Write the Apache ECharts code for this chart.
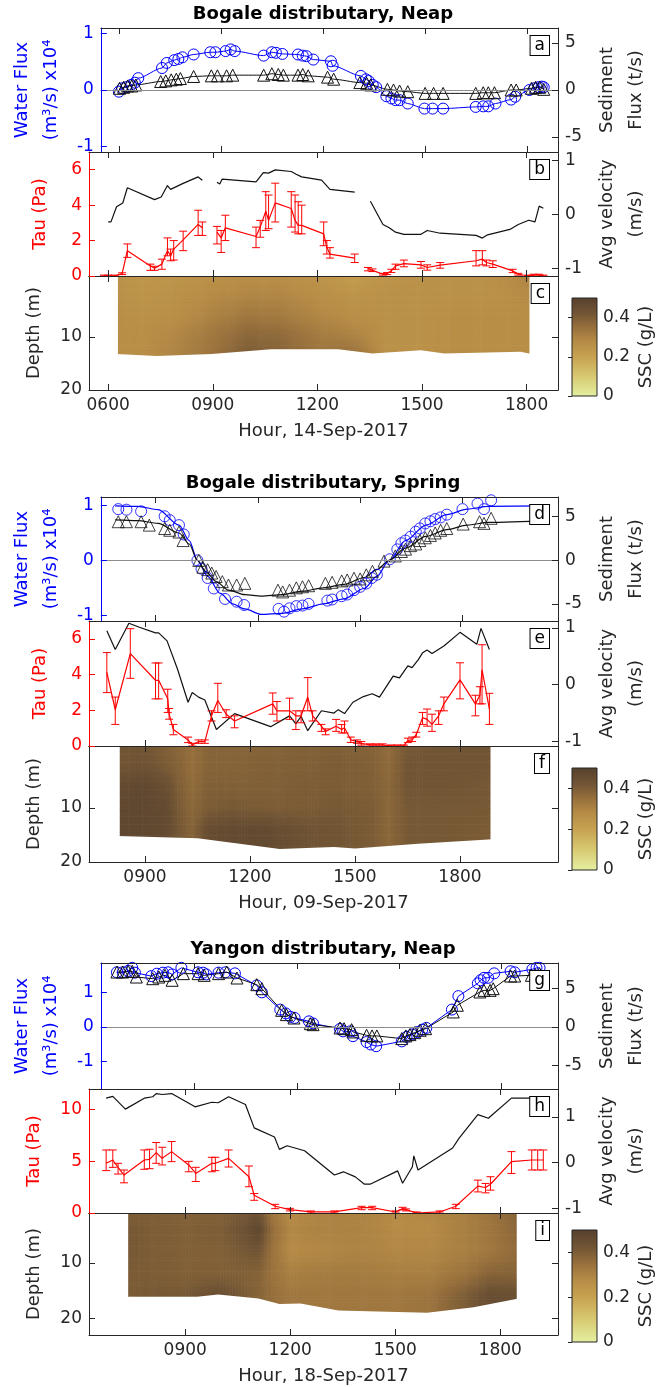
<!DOCTYPE html>
<html>
<head>
<meta charset="utf-8">
<script src="https://cdn.jsdelivr.net/npm/echarts@6/dist/echarts.min.js"></script>
<style>
  html, body { margin: 0; padding: 0; background: #fff; }
  #chart { width: 660px; height: 1387px; }
</style>
</head>
<body>
<div id="chart"></div>
<script>
// ---------- Bogale distributary, neap tide (14-Sep-2017) ----------
// [hour, water flux (x10^4 m3/s)]
const neapWaterFlux = [[5.98,-0.03],[6.08,0.03],[6.2,0.05],[6.34,0.09],[6.45,0.13],[6.55,0.21],[7.25,0.39],[7.39,0.48],[7.61,0.53],[7.73,0.55],[7.85,0.58],[8.18,0.63],[8.67,0.67],[8.82,0.67],[9.12,0.69],[9.27,0.72],[9.39,0.69],[10.24,0.61],[10.48,0.67],[10.6,0.66],[10.79,0.64],[11.25,0.63],[11.39,0.61],[11.5,0.6],[11.7,0.54],[12.22,0.51],[12.27,0.43],[13.1,0.25],[13.25,0.19],[13.33,0.16],[13.45,0.09],[13.55,0.05],[13.85,-0.11],[14.0,-0.15],[14.12,-0.18],[14.24,-0.18],[14.48,-0.24],[14.97,-0.33],[15.21,-0.33],[15.52,-0.33],[16.48,-0.3],[16.7,-0.29],[16.85,-0.29],[17.06,-0.24],[17.52,-0.17],[17.64,-0.12],[18.06,0],[18.2,0.03],[18.33,0.05],[18.42,0.06],[18.48,0.05]];
// [hour, sediment flux (t/s)]
const neapSedFlux = [[6.0,0.18],[6.12,0.29],[6.24,0.43],[6.36,0.43],[6.48,0.54],[7.21,0.9],[7.36,0.97],[7.52,1.08],[7.67,1.15],[7.79,1.22],[8.18,1.44],[8.7,1.51],[8.88,1.51],[9.15,1.51],[9.33,1.58],[10.24,1.58],[10.48,1.73],[10.67,1.65],[10.82,1.58],[11.25,1.58],[11.39,1.65],[11.55,1.51],[12.12,1.37],[12.3,1.15],[13.07,0.79],[13.27,0.72],[13.39,0.54],[13.88,0.07],[14.06,0],[14.24,-0.11],[14.48,-0.18],[14.99,-0.36],[15.24,-0.36],[15.52,-0.36],[16.48,-0.36],[16.7,-0.29],[16.85,-0.29],[17.03,-0.29],[17.52,0],[17.67,0],[18.12,0.18],[18.24,0.29],[18.36,0.29],[18.48,0.07]];
// [hour, tau (Pa), lower, upper]; null = no data
const neapTau = [[5.88,0,0,0.05],[6.0,0,0,0.05],[6.18,0,0,0.05],[6.4,0.13,0.08,0.18],[6.55,1.43,1.05,1.81],[7.21,0.57,0.32,0.67],[7.33,0.44,0.32,0.55],[7.54,0.67,0.38,0.95],[7.7,1.43,1.14,2.15],[7.79,1.14,0.86,1.52],[7.88,1.52,0.9,2.0],[8.15,2.04,1.43,2.53],[8.58,2.91,2.29,3.71],[8.7,2.72,2.29,3.05],null,[9.12,2.48,1.81,2.8],[9.24,2.15,1.33,2.57],[9.36,2.72,2.0,3.43],[10.24,2.23,1.6,2.76],[10.36,2.76,2.19,3.14],[10.52,3.66,2.57,4.76],[10.6,3.14,2.67,4.57],[10.79,4.13,3.05,5.24],[11.25,3.81,2.76,4.76],[11.36,3.14,2.48,4.57],[11.45,2.86,2.38,4.19],[11.55,2.86,2.38,4.0],[12.18,2.38,1.71,3.05],[12.27,1.62,1.24,2.0],[12.36,1.24,1.01,1.6],[13.07,1.01,0.76,1.24],null,[13.45,0.42,0.29,0.48],[13.58,0.32,0.25,0.4],[13.88,0.1,0.05,0.15],[14.0,0.13,0.08,0.2],[14.12,0.29,0.2,0.38],[14.24,0.57,0.38,0.67],[14.48,0.7,0.52,0.9],[14.97,0.63,0.44,0.82],[15.15,0.48,0.33,0.63],[15.52,0.61,0.44,0.76],[16.55,0.86,0.57,1.43],[16.73,0.95,0.63,1.43],[16.85,0.76,0.57,0.9],[17.03,0.67,0.48,0.86],[17.6,0.29,0.19,0.38],[17.76,0.1,0.05,0.15],[18.06,0,0,0.05],[18.2,0.06,0,0.1],[18.36,0.06,0,0.1],[18.48,0,0,0.05]];
// [hour, depth-averaged velocity (m/s)]
const neapVelocity = [[6.0,-0.14],[6.08,-0.14],[6.24,0.14],[6.42,0.21],[6.55,0.49],[7.33,0.27],[7.52,0.32],[7.7,0.53],[7.79,0.46],[8.15,0.57],[8.58,0.69],[8.7,0.63],null,[9.12,0.59],[9.2,0.56],[9.27,0.65],[10.24,0.6],[10.45,0.77],[10.6,0.76],[10.79,0.82],[11.25,0.79],[11.39,0.74],[11.55,0.69],[12.12,0.63],[12.36,0.46],[13.07,0.41],null,[13.52,0.24],[13.88,-0.19],[14.06,-0.25],[14.24,-0.33],[14.48,-0.37],[14.97,-0.37],[15.15,-0.3],[15.52,-0.35],[16.55,-0.39],[16.73,-0.44],[16.88,-0.38],[17.52,-0.28],[17.76,-0.19],[18.06,-0.11],[18.24,-0.14],[18.36,0.15],[18.48,0.11]];
// SSC section (g/L): columns = hours, rows = depths (m)
const neapSscHours = [6.28, 7, 8, 9, 10, 11, 12, 13, 14, 15, 16, 17, 18.08];
const neapSscDepths = [-1.5, 2, 6, 9.5, 13.6];
const neapSsc = [
  [0.26,0.24,0.25,0.26,0.27,0.27,0.25,0.22,0.25,0.26,0.26,0.26,0.30],
  [0.26,0.25,0.26,0.28,0.29,0.29,0.27,0.25,0.26,0.26,0.26,0.26,0.28],
  [0.27,0.26,0.27,0.30,0.33,0.32,0.29,0.27,0.26,0.26,0.27,0.27,0.27],
  [0.27,0.27,0.29,0.33,0.37,0.36,0.32,0.30,0.26,0.26,0.27,0.27,0.27],
  [0.27,0.27,0.30,0.34,0.40,0.38,0.34,0.35,0.26,0.26,0.27,0.27,0.27]
];
// bed: [hour, depth (m)]
const neapBed = [[6.28,13.2],[7.39,13.6],[8.97,13.2],[10.67,12.3],[12.6,12.3],[13.58,13.1],[14.97,12.5],[15.64,13.1],[17.82,12.8],[18.08,13.2]];

// ---------- Bogale distributary, spring tide (09-Sep-2017) ----------
const springWaterFlux = [[7.91,0.93],[8.15,0.92],[8.58,0.89],[9.27,0.8],[9.42,0.73],[9.69,0.64],[9.83,0.47],[10.23,0.0],[10.35,-0.15],[10.53,-0.32],[10.71,-0.51],[11.04,-0.7],[11.38,-0.75],[11.6,-0.81],[12.61,-0.88],[12.77,-0.93],[12.93,-0.87],[13.13,-0.83],[13.31,-0.82],[13.49,-0.79],[14.04,-0.73],[14.18,-0.71],[14.46,-0.65],[14.62,-0.62],[14.82,-0.54],[15.0,-0.48],[15.18,-0.42],[15.34,-0.32],[15.49,-0.26],[15.87,0.02],[16.09,0.2],[16.21,0.31],[16.33,0.36],[16.48,0.43],[16.63,0.52],[16.75,0.58],[16.91,0.67],[17.06,0.71],[17.2,0.75],[17.36,0.78],[17.54,0.83],[18.0,0.93],[18.44,1.03],[18.63,0.93],[18.84,1.09]];
const springWaterFit = [[7.82,0.99],[8.48,0.98],[9.08,0.92],[9.69,0.64],[9.99,0.36],[10.23,0.0],[10.53,-0.29],[10.9,-0.6],[11.26,-0.79],[11.62,-0.88],[12.1,-0.98],[12.71,-0.96],[13.31,-0.88],[13.92,-0.79],[14.52,-0.7],[15.12,-0.51],[15.49,-0.29],[15.85,0.0],[16.33,0.36],[16.93,0.64],[17.54,0.83],[18.14,0.93],[18.75,0.98],[20.56,0.99]];
const springSedFlux = [[7.91,4.43],[8.15,4.43],[8.58,4.43],[8.82,4.04],[9.27,3.65],[9.42,3.45],[9.69,3.25],[9.81,2.27],[10.27,0],[10.39,-0.78],[10.53,-1.06],[10.65,-1.45],[10.78,-1.84],[10.96,-2.43],[11.14,-2.82],[11.38,-2.82],[11.62,-2.63],[12.59,-3.41],[12.73,-3.61],[12.93,-3.41],[13.13,-3.14],[13.31,-3.02],[13.49,-2.9],[13.98,-2.63],[14.18,-2.51],[14.46,-2.35],[14.62,-2.24],[14.82,-2.04],[15.0,-2.12],[15.18,-1.65],[15.36,-1.25],[15.7,-0.08],[16.03,0.51],[16.21,1.02],[16.33,1.29],[16.48,1.69],[16.63,1.88],[16.75,2.27],[16.91,2.59],[17.06,2.86],[17.2,3.14],[17.36,3.45],[17.54,3.65],[18.02,4.16],[18.5,4.43],[18.63,4.24],[18.84,4.82]];
const springSedFit = [[7.82,4.63],[8.48,4.55],[9.08,4.24],[9.69,3.14],[9.99,1.88],[10.23,0],[10.47,-1.25],[10.78,-2.43],[11.14,-3.41],[11.62,-3.92],[12.1,-4.08],[12.71,-3.92],[13.31,-3.53],[13.92,-3.14],[14.52,-2.75],[15.12,-1.96],[15.49,-1.06],[15.85,0],[16.33,1.41],[16.93,2.75],[17.54,3.53],[18.14,4.04],[18.75,4.35],[20.56,4.55]];
const springTau = [[7.91,4.12,2.99,5.23],[8.15,2.03,1.21,2.74],[8.58,5.17,3.79,6.57],[9.3,3.68,2.64,4.65],[9.39,3.68,2.64,4.65],[9.65,2.64,1.88,3.18],[9.69,1.78,1.5,2.1],[9.81,0.92,0.63,1.21],[10.23,0.34,0.19,0.5],[10.35,0.06,0,0.15],[10.53,0.25,0.15,0.34],[10.71,0.25,0.15,0.34],[10.9,1.69,1.4,1.97],[11.08,2.55,1.88,3.51],[11.32,1.78,1.59,2.03],[11.56,1.4,1.02,1.69],[12.65,2.36,1.78,2.97],[12.77,1.97,1.4,2.49],[13.13,1.97,1.49,2.68],[13.31,1.69,0.92,1.97],[13.46,1.69,1.3,1.97],[13.65,2.74,1.97,3.83],[13.79,1.69,1.4,1.97],[14.04,1.11,0.82,1.21],[14.16,0.82,0.63,0.96],[14.46,1.11,0.82,1.49],[14.62,0.92,0.73,1.2],[14.7,1.02,0.73,1.4],[14.88,0.34,0.2,0.5],[15.06,0.25,0.15,0.34],[15.18,0.15,0.05,0.25],[15.43,0.06,0,0.12],[15.6,0.06,0,0.12],[15.79,0.06,0,0.12],[16.03,0,0,0.06],[16.21,0,0,0.06],[16.39,0,0,0.06],[16.51,0.31,0.19,0.44],[16.63,0.34,0.25,0.5],[16.75,0.63,0.5,0.77],[16.93,1.59,1.21,1.88],[17.06,1.49,1.11,2.07],[17.2,1.21,0.82,1.78],[17.39,1.69,1.21,1.97],[17.54,2.36,1.97,2.74],[18.0,3.7,2.64,4.66],[18.44,2.36,1.69,2.84],[18.57,2.84,2.36,3.32],[18.63,4.27,2.36,5.67],[18.84,2.07,1.21,2.95]];
const springVelocity = [[7.91,0.95],[8.15,0.62],[8.54,1.08],[8.84,1.01],[9.3,0.91],[9.39,0.91],[9.63,0.77],[9.93,0.27],[10.23,-0.31],[10.35,-0.14],[10.53,-0.22],[10.71,-0.27],[11.04,-0.79],[11.56,-0.51],[12.59,-0.74],[13.13,-0.55],[13.31,-0.69],[13.46,-0.56],[13.65,-0.81],[14.04,-0.46],[14.4,-0.5],[14.52,-0.44],[14.7,-0.51],[14.94,-0.31],[15.24,-0.21],[15.49,-0.16],[15.7,-0.22],[16.09,0.15],[16.27,0.12],[16.51,0.33],[16.63,0.3],[16.81,0.44],[16.93,0.56],[17.06,0.61],[17.2,0.55],[17.54,0.68],[18.0,0.92],[18.48,0.71],[18.6,0.99],[18.84,0.62]];
const springSscHours = [8.28, 9.0, 9.6, 10.0, 10.35, 10.8, 11.5, 12.5, 13.5, 14.5, 15.5, 15.95, 16.5, 17.5, 18.87];
const springSscDepths = [-1.5, 2, 6, 10, 14, 17.6];
const springSsc = [
  [0.42,0.42,0.39,0.37,0.35,0.38,0.38,0.38,0.39,0.39,0.38,0.36,0.41,0.42,0.42],
  [0.42,0.43,0.40,0.38,0.35,0.38,0.38,0.39,0.39,0.40,0.39,0.36,0.42,0.42,0.42],
  [0.46,0.47,0.44,0.39,0.36,0.39,0.39,0.39,0.40,0.40,0.39,0.37,0.42,0.42,0.41],
  [0.47,0.47,0.46,0.40,0.37,0.40,0.41,0.40,0.40,0.41,0.40,0.37,0.41,0.41,0.41],
  [0.47,0.47,0.46,0.41,0.38,0.45,0.46,0.46,0.43,0.42,0.40,0.37,0.41,0.41,0.40],
  [0.47,0.47,0.46,0.41,0.38,0.45,0.46,0.46,0.43,0.42,0.40,0.37,0.41,0.41,0.40]
];
const springBed = [[8.28,15.2],[10.5,15.6],[12.85,17.6],[14.4,17.2],[15.0,17.5],[16.8,16.6],[18.87,15.8]];

// ---------- Yangon distributary, neap tide (18-Sep-2017) ----------
const yangonWaterFlux = [[6.72,1.58],[6.89,1.58],[7.05,1.62],[7.17,1.71],[7.25,1.57],[7.73,1.47],[7.89,1.54],[8.07,1.57],[8.22,1.58],[8.34,1.52],[8.61,1.71],[9.1,1.58],[9.25,1.57],[9.34,1.52],[9.7,1.57],[9.9,1.58],[10.18,1.55],[10.82,1.2],[10.97,1.0],[11.51,0.5],[11.67,0.39],[11.81,0.29],[11.93,0.26],[12.35,0.16],[12.47,0.1],[13.26,-0.06],[13.35,-0.13],[13.56,-0.13],[13.64,-0.27],[14.04,-0.44],[14.16,-0.51],[14.32,-0.56],[15.07,-0.42],[15.21,-0.29],[15.37,-0.22],[15.53,-0.15],[15.67,-0.08],[15.79,-0.03],[16.54,0.5],[16.73,0.89],[17.3,1.26],[17.38,1.35],[17.48,1.42],[17.6,1.42],[17.78,1.55],[18.26,1.61],[18.38,1.58],[18.9,1.67],[19.02,1.71],[19.11,1.71]];
const yangonSedFlux = [[6.72,7.17],[6.89,7.17],[7.05,7.26],[7.17,7.26],[7.29,6.52],[7.77,6.3],[7.95,6.52],[8.13,6.74],[8.34,6.09],[8.67,6.96],[9.1,6.96],[9.28,6.74],[9.7,6.96],[9.94,7.17],[10.24,6.39],[10.82,5.52],[10.97,5.0],[11.55,2.17],[11.69,1.61],[11.91,1.17],[12.39,0.43],[12.47,0.3],[13.26,-0.13],[13.38,-0.22],[13.6,-0.35],[13.64,-0.65],[14.04,-1.09],[14.2,-1.17],[14.34,-1.17],[15.07,-1.52],[15.19,-1.17],[15.31,-1.0],[15.45,-0.74],[15.61,-0.43],[15.77,-0.22],[16.58,1.96],[16.7,2.83],[17.36,4.57],[17.48,4.78],[17.66,4.78],[17.75,5.0],[18.26,6.65],[18.38,6.65],[18.87,6.74],[18.99,6.83],[19.11,6.96]];
const yangonTau = [[6.74,4.81,4.1,6.1],[6.93,5.13,4.42,6.1],[7.08,4.42,3.77,4.81],[7.25,3.67,2.92,4.16],[7.83,5.13,4.23,6.1],[7.98,5.19,4.29,6.17],[8.17,5.84,4.81,6.82],[8.34,5.29,4.65,6.36],[8.61,5.94,4.97,6.92],[9.1,4.65,3.99,5.0],[9.3,3.83,3.05,4.42],[9.76,4.81,3.99,5.39],[9.86,4.81,4.1,5.39],[10.24,5.29,4.45,6.1],[10.82,3.51,2.54,4.55],[10.97,1.72,1.23,1.88],[11.57,0.65,0.42,0.84],[11.99,0.32,0.2,0.45],[12.59,0.1,0,0.2],[13.26,0.1,0,0.2],[14.04,0.52,0.32,0.65],[14.34,0.52,0.32,0.65],[15.01,0.1,0,0.2],[15.21,0.42,0.3,0.55],[15.31,0.32,0.2,0.4],[15.61,0,0,0.1],[16.27,0.1,0,0.2],[16.73,0.65,0.42,0.84],[17.36,2.6,2.04,3.18],[17.58,2.47,1.95,2.86],[17.72,2.78,2.21,3.51],[18.32,4.97,3.83,5.94],[18.9,5.13,4.16,6.1],[19.07,5.13,4.16,6.1],[19.23,5.13,4.16,6.1]];
const yangonVelocity = [[6.74,1.41],[6.93,1.45],[7.29,1.17],[7.83,1.41],[8.07,1.44],[8.17,1.51],[8.34,1.49],[8.61,1.51],[9.28,1.22],[9.76,1.32],[9.94,1.31],[10.24,1.44],[10.72,1.27],[10.97,0.76],[11.55,0.56],[11.69,0.29],[11.91,0.37],[12.41,0.26],[13.26,-0.27],[13.52,-0.2],[13.86,-0.31],[14.12,-0.47],[14.28,-0.47],[15.07,-0.18],[15.21,-0.45],[15.49,-0.09],[15.53,0.15],[15.65,-0.16],[16.64,0.32],[16.82,0.53],[17.36,1.05],[17.66,0.97],[18.32,1.41],[19.29,1.41]];
const yangonSscHours = [7.37, 8.0, 9.0, 10.0, 10.6, 11.1, 11.5, 12.0, 13.0, 14.0, 15.0, 16.0, 17.0, 17.7, 18.47];
const yangonSscDepths = [1, 4, 8, 12, 16, 19.2];
const yangonSsc = [
  [0.40,0.40,0.39,0.39,0.41,0.43,0.33,0.28,0.30,0.30,0.28,0.29,0.31,0.34,0.38],
  [0.41,0.40,0.39,0.40,0.43,0.47,0.35,0.29,0.30,0.30,0.28,0.28,0.31,0.33,0.37],
  [0.41,0.40,0.39,0.39,0.41,0.42,0.34,0.28,0.29,0.30,0.29,0.29,0.31,0.33,0.36],
  [0.40,0.40,0.39,0.39,0.39,0.38,0.34,0.31,0.32,0.32,0.31,0.31,0.34,0.38,0.38],
  [0.40,0.41,0.41,0.45,0.41,0.38,0.35,0.33,0.33,0.33,0.33,0.34,0.40,0.45,0.44],
  [0.40,0.41,0.41,0.45,0.41,0.38,0.35,0.33,0.33,0.33,0.33,0.34,0.40,0.45,0.44]
];
const yangonBed = [[7.37,16.1],[9.34,16.1],[9.94,15.7],[11.09,16.4],[11.69,17.4],[12.29,17.3],[13.38,18.6],[15.91,19.0],[17.24,18.0],[18.47,16.4]];

// tick positions
const hourTicksNeap = [6, 9, 12, 15, 18];
const hourTicksOther = [9, 12, 15, 18];
const sscTicks = [0, 0.2, 0.4];

// ---------- style ----------
const FONT = '"DejaVu Sans", Verdana, sans-serif';
const BLUE = '#0000ff', RED = '#ff0000', INK = '#262626', LINE = '#111111';
const SSC_MAX = 0.5;
// colormap (value -> rgb), pale yellow-green to dark brown
const sscColormap = [
  [0.00, [228, 240, 162]],
  [0.10, [216, 202, 114]],
  [0.20, [199, 162, 80]],
  [0.28, [182, 139, 70]],
  [0.35, [150, 111, 60]],
  [0.42, [113, 85, 52]],
  [0.50, [86, 64, 46]]
];
function sscColor(v) {
  const c = sscColormap;
  if (v <= c[0][0]) return 'rgb(' + c[0][1].join(',') + ')';
  for (let k = 1; k < c.length; k++) {
    if (v <= c[k][0]) {
      const t = (v - c[k-1][0]) / (c[k][0] - c[k-1][0]);
      const rgb = c[k][1].map((x, n) => Math.round(c[k-1][1][n] + t * (x - c[k-1][1][n])));
      return 'rgb(' + rgb.join(',') + ')';
    }
  }
  return 'rgb(' + c[c.length-1][1].join(',') + ')';
}

const option = {
  animation: false,
  backgroundColor: '#fff',
  textStyle: { fontFamily: FONT },
  grid: [], xAxis: [], yAxis: [], series: [], graphic: []
};

function hourLabel(v) { return (v < 10 ? '0' : '') + v + '00'; }
function onlyTicks(ticks, fmt) {
  return v => ticks.some(t => Math.abs(t - v) < 1e-9) ? fmt(v) : '';
}

function yAxisCfg(gi, pos, o) {
  const col = o.color || INK;
  return {
    type: 'value', gridIndex: gi, position: pos, min: o.min, max: o.max, inverse: !!o.inverse, z: 10,
    axisLine: { show: true, onZero: false, lineStyle: { color: col, width: 1 } },
    axisTick: { show: true, inside: true, length: 6, customValues: o.ticks, lineStyle: { color: col } },
    axisLabel: { show: o.labels !== false, customValues: o.ticks, color: col, fontSize: 17, margin: 7,
                 formatter: onlyTicks(o.ticks, v => String(v)) },
    splitLine: { show: false },
    name: o.name || '', nameLocation: 'middle', nameRotate: 90, nameGap: o.gap || 30,
    nameTextStyle: { color: col, fontSize: 18, lineHeight: 29, fontFamily: FONT }
  };
}

function addPanel(top, height, xr, ticks, xname, letter, left, right) {
  const gi = option.grid.length;
  option.grid.push({ left: 89, right: 102, top: top, height: height });
  const xi = option.xAxis.length;
  const base = {
    type: 'value', gridIndex: gi, min: xr[0], max: xr[1], z: 10,
    axisLine: { show: true, onZero: false, lineStyle: { color: INK } },
    axisTick: { show: true, inside: true, length: 6, customValues: ticks, lineStyle: { color: INK } },
    splitLine: { show: false }
  };
  option.xAxis.push(Object.assign({}, base, {
    position: 'bottom',
    axisLabel: { show: !!xname, customValues: ticks, formatter: onlyTicks(ticks, hourLabel),
                 color: INK, fontSize: 17, margin: 7 },
    name: xname || '', nameLocation: 'middle', nameGap: 32,
    nameTextStyle: { color: INK, fontSize: 18, fontFamily: FONT }
  }));
  option.xAxis.push(Object.assign({}, base, { position: 'top', axisLabel: { show: false } }));
  const yi = option.yAxis.length;
  option.yAxis.push(yAxisCfg(gi, 'left', left));
  option.yAxis.push(yAxisCfg(gi, 'right', right));
  option.graphic.push({
    type: 'text', x: 549, y: top + 8, z: 100,
    style: { text: letter, font: '17px ' + FONT, fill: '#000', align: 'right', verticalAlign: 'top',
             backgroundColor: '#fff', borderColor: '#000', borderWidth: 1, padding: [1, 4, 1, 4] }
  });
  return { x: xi, yl: yi, yr: yi + 1 };
}

function gapped(arr) { return arr.map(d => d ? [d[0], d[1]] : ['-', '-']); }

function markerLine(ax, yIdx, data, color, symbol, smooth) {
  return {
    type: 'line', xAxisIndex: ax.x, yAxisIndex: yIdx, data: data,
    symbol: symbol, symbolSize: symbol === 'triangle' ? 12 : 11, showSymbol: true, showAllSymbol: true,
    smooth: smooth ? 0.25 : false, smoothMonotone: 'x', connectNulls: false, silent: true, z: 4,
    lineStyle: { color: color, width: 1 },
    itemStyle: { color: 'rgba(0,0,0,0)', borderColor: color, borderWidth: 1 }
  };
}

function scatter(ax, yIdx, data, color, symbol) {
  return { type: 'scatter', xAxisIndex: ax.x, yAxisIndex: yIdx, data: data, symbol: symbol,
           symbolSize: symbol === 'triangle' ? 12 : 11, silent: true, z: 4,
           itemStyle: { color: 'rgba(0,0,0,0)', borderColor: color, borderWidth: 1 } };
}

function plainLine(ax, yIdx, data, color, smooth, z) {
  return { type: 'line', xAxisIndex: ax.x, yAxisIndex: yIdx, data: data, symbol: 'none',
           smooth: smooth ? 0.3 : false, smoothMonotone: 'x', connectNulls: false, silent: true, z: z || 3,
           lineStyle: { color: color, width: 1.2 } };
}

function zeroLine(ax) {
  return { type: 'line', xAxisIndex: ax.x, yAxisIndex: ax.yl, data: [], silent: true, z: 2,
           markLine: { silent: true, symbol: ['none', 'none'], label: { show: false },
                       lineStyle: { color: '#8c8c8c', type: 'solid', width: 1 }, data: [{ yAxis: 0 }] } };
}

function errorBars(ax, tau) {
  return {
    type: 'custom', xAxisIndex: ax.x, yAxisIndex: ax.yl, silent: true, z: 5,
    data: tau.filter(Boolean),
    renderItem: function (params, api) {
      const x = api.value(0), lo = api.value(2), hi = api.value(3);
      const a = api.coord([x, lo]), b = api.coord([x, hi]);
      const w = 4;
      const st = { stroke: RED, lineWidth: 1, fill: null };
      return { type: 'group', children: [
        { type: 'line', shape: { x1: a[0], y1: a[1], x2: b[0], y2: b[1] }, style: st },
        { type: 'line', shape: { x1: a[0] - w, y1: a[1], x2: a[0] + w, y2: a[1] }, style: st },
        { type: 'line', shape: { x1: b[0] - w, y1: b[1], x2: b[0] + w, y2: b[1] }, style: st }
      ] };
    }
  };
}

function sscField(ax, hours, depths, grid) {
  const data = [];
  for (let j = 0; j < depths.length - 1; j++) {
    for (let i = 0; i < hours.length - 1; i++) {
      data.push([hours[i], hours[i+1], depths[j], depths[j+1],
                 grid[j][i], grid[j][i+1], grid[j+1][i], grid[j+1][i+1]]);
    }
  }
  const lastHour = hours[hours.length - 1];
  return {
    type: 'custom', xAxisIndex: ax.x, yAxisIndex: ax.yl, silent: true, z: 1, data: data,
    renderItem: function (params, api) {
      const x0 = api.value(0), x1 = api.value(1), d0 = api.value(2), d1 = api.value(3);
      const v = [api.value(4), api.value(5), api.value(6), api.value(7)];
      const a = api.coord([x0, d0]), b = api.coord([x1, d1]);
      const W = b[0] - a[0], H = b[1] - a[1];
      const nx = Math.max(1, Math.ceil(Math.abs(W) / 3));
      const ny = Math.max(1, Math.ceil(Math.abs(H) / 3));
      const lastCol = Math.abs(x1 - lastHour) < 1e-9;
      const children = [];
      for (let iy = 0; iy < ny; iy++) {
        for (let ix = 0; ix < nx; ix++) {
          const u = (ix + 0.5) / nx, t = (iy + 0.5) / ny;
          const val = v[0] * (1 - u) * (1 - t) + v[1] * u * (1 - t) + v[2] * (1 - u) * t + v[3] * u * t;
          const padX = (lastCol && ix === nx - 1) ? 0 : 0.6;
          children.push({ type: 'rect',
            shape: { x: a[0] + W * ix / nx, y: a[1] + H * iy / ny, width: W / nx + padX, height: H / ny + 0.6 },
            style: { fill: sscColor(val) } });
        }
      }
      return { type: 'group', children: children };
    }
  };
}

function bedMask(ax, bed, depthMax) {
  return {
    type: 'custom', xAxisIndex: ax.x, yAxisIndex: ax.yl, silent: true, z: 3, data: [bed[0]],
    renderItem: function (params, api) {
      const pts = bed.map(d => api.coord([d[0], d[1]]));
      const bottom = api.coord([bed[0][0], depthMax])[1] - 1;
      pts[0] = [pts[0][0] - 2, pts[0][1]];
      pts[pts.length - 1] = [pts[pts.length - 1][0] + 2, pts[pts.length - 1][1]];
      pts.push([pts[pts.length - 1][0], bottom]);
      pts.push([pts[0][0], bottom]);
      return { type: 'polygon', shape: { points: pts }, style: { fill: '#fff' } };
    }
  };
}

function addColorbar(top, height) {
  const gi = option.grid.length;
  option.grid.push({ left: 572, width: 25, top: top, height: height });
  const xi = option.xAxis.length;
  option.xAxis.push({ type: 'value', gridIndex: gi, min: 0, max: 1, show: false });
  const yi = option.yAxis.length;
  option.yAxis.push({
    type: 'value', gridIndex: gi, position: 'right', min: 0, max: SSC_MAX, z: 10,
    axisLine: { show: false },
    axisTick: { show: true, inside: true, length: 4, customValues: sscTicks, lineStyle: { color: INK } },
    axisLabel: { customValues: sscTicks, color: INK, fontSize: 17, margin: 6,
                 formatter: onlyTicks(sscTicks, v => String(v)) },
    splitLine: { show: false },
    name: 'SSC (g/L)', nameLocation: 'middle', nameRotate: 90, nameGap: 40,
    nameTextStyle: { color: INK, fontSize: 18, fontFamily: FONT }
  });
  option.series.push({
    type: 'custom', xAxisIndex: xi, yAxisIndex: yi, silent: true, data: [[0, 0]],
    renderItem: function (params, api) {
      const a = api.coord([0, SSC_MAX]), b = api.coord([1, 0]);
      return { type: 'rect', shape: { x: a[0], y: a[1], width: b[0] - a[0], height: b[1] - a[1] },
        style: { stroke: INK, lineWidth: 1,
          fill: { type: 'linear', x: 0, y: 1, x2: 0, y2: 0,
                  colorStops: sscColormap.map(s => ({ offset: s[0] / SSC_MAX, color: 'rgb(' + s[1].join(',') + ')' })) } } };
    }
  });
}

function addTitle(text, y) {
  option.graphic.push({ type: 'text', x: 323, y: y, z: 100,
    style: { text: text, font: 'bold 18px ' + FONT, fill: '#000', align: 'center', verticalAlign: 'middle' } });
}

const fluxName = 'Water Flux\n(m³/s) x10⁴';
const sedName = 'Sediment\nFlux (t/s)';
const velName = 'Avg velocity\n(m/s)';

// ===== Bogale, neap =====
addTitle('Bogale distributary, Neap', 14);
const rNeap = [5.45, 18.9];
const pa = addPanel(28, 124, rNeap, hourTicksNeap, null, 'a',
  { min: -1.1, max: 1.1, ticks: [-1, 0, 1], color: BLUE, name: fluxName, gap: 26 },
  { min: -6.6, max: 6.6, ticks: [-5, 0, 5], name: sedName, gap: 30 });
const pb = addPanel(152, 124, rNeap, hourTicksNeap, null, 'b',
  { min: 0, max: 7, ticks: [0, 2, 4, 6], color: RED, name: 'Tau (Pa)', gap: 34 },
  { min: -1.14, max: 1.15, ticks: [-1, 0, 1], name: velName, gap: 30 });
const pc = addPanel(276, 114, rNeap, hourTicksNeap, 'Hour, 14-Sep-2017', 'c',
  { min: -1.5, max: 20, inverse: true, ticks: [10, 20], name: 'Depth (m)', gap: 40 },
  { min: -1.5, max: 20, inverse: true, ticks: [10, 20], labels: false });
option.series.push(zeroLine(pa));
option.series.push(markerLine(pa, pa.yl, neapWaterFlux, BLUE, 'circle', true));
option.series.push(markerLine(pa, pa.yr, neapSedFlux, LINE, 'triangle', true));
option.series.push(plainLine(pb, pb.yr, gapped(neapVelocity), LINE, false));
option.series.push(errorBars(pb, neapTau));
option.series.push(plainLine(pb, pb.yl, gapped(neapTau), RED, false, 5));
option.series.push(sscField(pc, neapSscHours, neapSscDepths, neapSsc));
option.series.push(bedMask(pc, neapBed, 20));
addColorbar(298, 98);

// ===== Bogale, spring =====
addTitle('Bogale distributary, Spring', 483);
const rSpring = [7.4, 20.8];
const pd = addPanel(497, 124, rSpring, hourTicksOther, null, 'd',
  { min: -1.1, max: 1.15, ticks: [-1, 0, 1], color: BLUE, name: fluxName, gap: 26 },
  { min: -6.94, max: 7.26, ticks: [-5, 0, 5], name: sedName, gap: 30 });
const pe = addPanel(621, 125, rSpring, hourTicksOther, null, 'e',
  { min: 0, max: 7, ticks: [0, 2, 4, 6], color: RED, name: 'Tau (Pa)', gap: 34 },
  { min: -1.08, max: 1.12, ticks: [-1, 0, 1], name: velName, gap: 30 });
const pf = addPanel(746, 116, rSpring, hourTicksOther, 'Hour, 09-Sep-2017', 'f',
  { min: -1.5, max: 20, inverse: true, ticks: [10, 20], name: 'Depth (m)', gap: 40 },
  { min: -1.5, max: 20, inverse: true, ticks: [10, 20], labels: false });
option.series.push(zeroLine(pd));
option.series.push(plainLine(pd, pd.yl, springWaterFit, BLUE, true, 3));
option.series.push(plainLine(pd, pd.yr, springSedFit, LINE, true, 3));
option.series.push(scatter(pd, pd.yl, springWaterFlux, BLUE, 'circle'));
option.series.push(scatter(pd, pd.yr, springSedFlux, LINE, 'triangle'));
option.series.push(plainLine(pe, pe.yr, springVelocity, LINE, false));
option.series.push(errorBars(pe, springTau));
option.series.push(plainLine(pe, pe.yl, gapped(springTau), RED, false, 5));
option.series.push(sscField(pf, springSscHours, springSscDepths, springSsc));
option.series.push(bedMask(pf, springBed, 20));
addColorbar(768, 102);

// ===== Yangon, neap =====
addTitle('Yangon distributary, Neap', 949);
const rYangon = [6.25, 19.65];
const pg = addPanel(963, 126, rYangon, hourTicksOther, null, 'g',
  { min: -1.8, max: 1.85, ticks: [-1, 0, 1], color: BLUE, name: fluxName, gap: 26 },
  { min: -8.1, max: 8.35, ticks: [-5, 0, 5], name: sedName, gap: 30 });
const ph = addPanel(1089, 124, rYangon, hourTicksOther, null, 'h',
  { min: 0, max: 12, ticks: [0, 5, 10], color: RED, name: 'Tau (Pa)', gap: 40 },
  { min: -1.1, max: 1.61, ticks: [-1, 0, 1], name: velName, gap: 30 });
const pi = addPanel(1213, 122, rYangon, hourTicksOther, 'Hour, 18-Sep-2017', 'i',
  { min: 1, max: 23, inverse: true, ticks: [10, 20], name: 'Depth (m)', gap: 40 },
  { min: 1, max: 23, inverse: true, ticks: [10, 20], labels: false });
option.series.push(zeroLine(pg));
option.series.push(markerLine(pg, pg.yl, yangonWaterFlux, BLUE, 'circle', false));
option.series.push(markerLine(pg, pg.yr, yangonSedFlux, LINE, 'triangle', false));
option.series.push(plainLine(ph, ph.yr, yangonVelocity, LINE, false));
option.series.push(errorBars(ph, yangonTau));
option.series.push(plainLine(ph, ph.yl, gapped(yangonTau), RED, false, 5));
option.series.push(sscField(pi, yangonSscHours, yangonSscDepths, yangonSsc));
option.series.push(bedMask(pi, yangonBed, 23));
addColorbar(1230, 112);

const chart = echarts.init(document.getElementById('chart'), null, { renderer: 'canvas' });
chart.setOption(option);
</script>
</body>
</html>
